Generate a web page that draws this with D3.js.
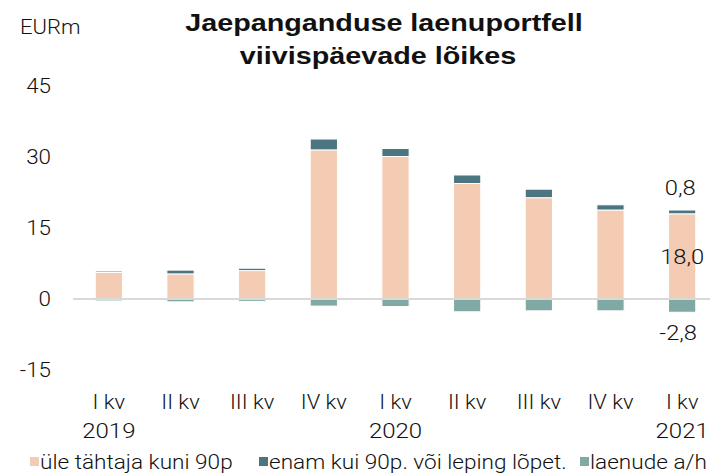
<!DOCTYPE html>
<html>
<head>
<meta charset="utf-8">
<script src="https://cdn.jsdelivr.net/npm/d3@7"></script>
<style>
  body { margin: 0; background: #fff; }
  text { font-family: Roboto, "Liberation Sans", Arial, sans-serif; font-weight: 300; fill: #111; }
  text.bold { font-family: "Liberation Sans", Arial, sans-serif; font-weight: bold; }
</style>
</head>
<body>
<div id="chart"></div>
<script>
// Data
const quarters = ["I kv", "II kv", "III kv", "IV kv", "I kv", "II kv", "III kv", "IV kv", "I kv"];
const years = ["2019", "", "", "", "2020", "", "", "", "2021"];
const overdueShort = [5.6, 5.3, 6.0, 31.5, 30.1, 24.4, 21.4, 18.8, 18.0];
const overdueLong = [0.3, 0.8, 0.5, 2.3, 1.7, 1.8, 1.8, 1.1, 0.8];
const provisions = [-0.4, -0.6, -0.5, -1.5, -1.6, -2.7, -2.5, -2.5, -2.8];
const yTicks = [45, 30, 15, 0, -15];
const seriesNames = ["üle tähtaja kuni 90p", "enam kui 90p. või leping lõpet.", "laenude a/h"];
const colors = ["#f4cbb3", "#4b7580", "#80a9a3"];

const width = 710, height = 473;
const svg = d3.select("#chart").append("svg")
  .attr("width", width)
  .attr("height", height);

const x = d3.scaleBand()
  .domain(d3.range(quarters.length))
  .range([73, 718])
  .paddingInner(0.62)
  .paddingOuter(0.31);

const y = d3.scaleLinear()
  .domain([-15, 45])
  .range([370, 86]);

// text helper: the source font is wider, so stretch horizontally
function label(g, px, py, str, opt = {}) {
  const t = g.append("text")
    .attr("transform", `translate(${px},${py}) scale(${opt.sx || 1.12},1)`)
    .attr("text-anchor", opt.anchor || "middle")
    .style("font-size", (opt.size || 20) + "px")
    .text(str);
  if (opt.bold) t.attr("class", "bold");
  return t;
}

const fmt = v => d3.format(".1f")(v).replace(".", ",").replace("−", "-");

// title
label(svg, 384, 31, "Jaepanganduse laenuportfell", { size: 23, bold: true, sx: 1.25 });
label(svg, 378, 64, "viivispäevade lõikes", { size: 23, bold: true, sx: 1.25 });

label(svg, 20, 34, "EURm", { anchor: "start", sx: 1.1 });

// y tick labels
const yg = svg.append("g");
yTicks.forEach(d => label(yg, 51, y(d) + 7, d, { anchor: "end", sx: 1.12 }));

// bars
const bars = svg.append("g");
const bw = x.bandwidth();
quarters.forEach((q, i) => {
  const segs = [
    { y0: 0, y1: overdueShort[i], c: colors[0] },
    { y0: overdueShort[i], y1: overdueShort[i] + overdueLong[i], c: colors[1] },
    { y0: provisions[i], y1: 0, c: colors[2] }
  ];
  bars.selectAll(null)
    .data(segs)
    .join("rect")
    .attr("x", x(i))
    .attr("width", bw)
    .attr("y", d => y(d.y1))
    .attr("height", d => y(d.y0) - y(d.y1))
    .attr("fill", d => d.c)
    .attr("stroke", "#fff")
    .attr("stroke-width", 1);
});

// zero line
svg.append("line")
  .attr("x1", 73).attr("x2", width)
  .attr("y1", y(0)).attr("y2", y(0))
  .attr("stroke", "#d9d9d9")
  .attr("stroke-width", 2);

// category labels
const cat = svg.append("g");
quarters.forEach((q, i) => {
  label(cat, x(i) + bw / 2, 409, q, { sx: 1.1 });
  if (years[i]) label(cat, x(i) + bw / 2, 438, years[i], { sx: 1.2 });
});

// value labels for last bar
const last = quarters.length - 1;
const lx = x(last) + bw / 2;
label(svg, lx - 2, y(overdueShort[last] + overdueLong[last]) - 15, fmt(overdueLong[last]), { size: 21, sx: 1.13 });
label(svg, lx, y(overdueShort[last] / 2) + 8, fmt(overdueShort[last]), { size: 21, sx: 1.13 });
label(svg, lx - 4, y(provisions[last]) + 28, fmt(provisions[last]), { size: 21, sx: 1.13 });

// legend
const legendX = [30, 259, 580];
const lg = svg.append("g");
seriesNames.forEach((n, i) => {
  lg.append("rect")
    .attr("x", legendX[i]).attr("y", 457)
    .attr("width", 9).attr("height", 9)
    .attr("fill", colors[i]);
  label(lg, legendX[i] + 10, 469, n, { anchor: "start", sx: 1.13 });
});
</script>
</body>
</html>
